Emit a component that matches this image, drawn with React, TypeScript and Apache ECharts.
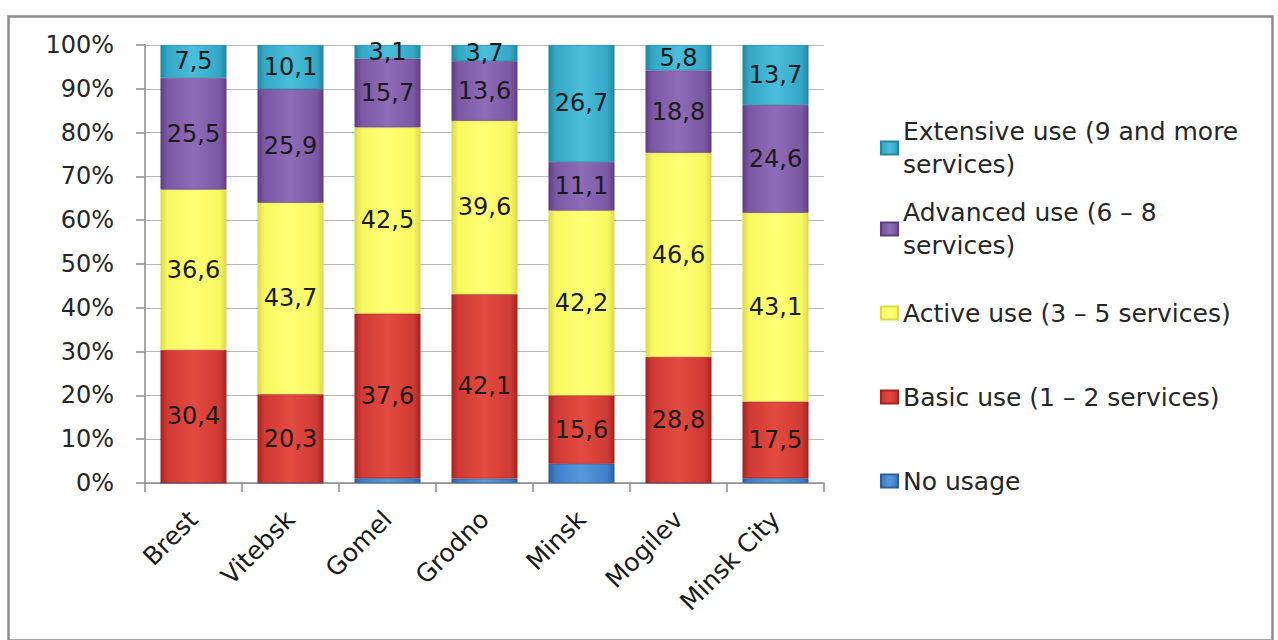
import React, { useEffect, useRef } from "react";
import * as echarts from "echarts";

// Share of internet users by intensity of e-service use, per region (%)
const regions = ["Brest", "Vitebsk", "Gomel", "Grodno", "Minsk", "Mogilev", "Minsk City"];
const noUsage = [0, 0, 1.1, 1.0, 4.4, 0, 1.1];
const basicUse = [30.4, 20.3, 37.6, 42.1, 15.6, 28.8, 17.5];
const activeUse = [36.6, 43.7, 42.5, 39.6, 42.2, 46.6, 43.1];
const advancedUse = [25.5, 25.9, 15.7, 13.6, 11.1, 18.8, 24.6];
const extensiveUse = [7.5, 10.1, 3.1, 3.7, 26.7, 5.8, 13.7];

const seriesNames = [
  "No usage",
  "Basic use (1 – 2 services)",
  "Active use (3 – 5 services)",
  "Advanced use (6 – 8 services)",
  "Extensive use (9 and more services)",
];
const legendLabels = [
  "No usage",
  "Basic use (1 – 2 services)",
  "Active use (3 – 5 services)",
  "Advanced use (6 –\u00a08\nservices)",
  "Extensive use (9 and more\nservices)",
];
const legendRows = [481, 397, 313, 229, 148];
const twoLine = [false, false, false, true, true];

const FONT = "DejaVu Sans";
const LINE = 33;

const shade = (edge: string, mid: string, light: string) =>
  new echarts.graphic.LinearGradient(0, 0, 1, 0, [
    { offset: 0, color: edge },
    { offset: 0.1, color: mid },
    { offset: 0.5, color: light },
    { offset: 0.9, color: mid },
    { offset: 1, color: edge },
  ]);

const palette = [
  ["#2C5E9E", "#3F7DC8", "#5A98DD"],
  ["#A8221F", "#D03A34", "#E34A40"],
  ["#DADA4C", "#F8F860", "#FFFF74"],
  ["#5E3F85", "#7A58A3", "#8E6CB7"],
  ["#22879F", "#35A7C6", "#4ABEDB"],
];

const values = [noUsage, basicUse, activeUse, advancedUse, extensiveUse];

const fmt = (v: number) => v.toFixed(1).replace(".", ",");

export default function App() {
  const ref = useRef<HTMLDivElement>(null);

  useEffect(() => {
    if (!ref.current) return;
    const chart = echarts.init(ref.current, null, { renderer: "svg" });

    const series = values.map((data, i) => ({
      name: seriesNames[i],
      type: "bar",
      stack: "total",
      barWidth: "68%",
      data,
      itemStyle: {
        color: shade(palette[i][0], palette[i][1], palette[i][2]),
        borderColor: palette[i][0],
        borderWidth: 0.6,
      },
      label: {
        show: i > 0,
        position: "inside",
        fontFamily: FONT,
        fontSize: 24,
        color: "#1b1b1b",
        formatter: (p: any) => (p.value > 0 ? fmt(p.value) : ""),
      },
    }));

    const legends = seriesNames.map((name, i) => ({
      show: true,
      data: [name],
      left: 880,
      top: twoLine[i] ? legendRows[i] - LINE * 1.5 : legendRows[i] - LINE / 2,
      padding: 0,
      itemWidth: 17,
      itemHeight: 13,
      icon: "rect",
      selectedMode: false,
      formatter: () => legendLabels[i],
      textStyle: {
        fontFamily: FONT,
        fontSize: 25,
        color: "#262626",
        lineHeight: LINE,
        padding: twoLine[i] ? [LINE, 0, 0, 0] : 0,
      },
    }));

    chart.setOption({
      animation: false,
      backgroundColor: "#ffffff",
      grid: { left: 145, right: 454, top: 45, bottom: 157 },
      legend: legends,
      xAxis: {
        type: "category",
        data: regions,
        axisLine: { lineStyle: { color: "#8a8a8a", width: 1.5 } },
        axisTick: { show: true, length: 9, lineStyle: { color: "#8a8a8a", width: 1.5 } },
        axisLabel: {
          rotate: 45,
          margin: 32,
          fontFamily: FONT,
          fontSize: 25,
          color: "#1a1a1a",
        },
      },
      yAxis: {
        type: "value",
        min: 0,
        max: 100,
        interval: 10,
        axisLine: { show: true, lineStyle: { color: "#8a8a8a", width: 1.5 } },
        axisTick: { show: true, length: 9, lineStyle: { color: "#8a8a8a", width: 1.5 } },
        splitLine: { lineStyle: { color: "#b8b8b8", width: 1 } },
        axisLabel: {
          formatter: "{value}%",
          margin: 31,
          fontFamily: FONT,
          fontSize: 24,
          color: "#262626",
        },
      },
      graphic: [
        {
          type: "rect",
          left: 6,
          top: 14,
          shape: { width: 1264, height: 624 },
          style: { fill: "none", stroke: "#8c8c8c", lineWidth: 2.5 },
          silent: true,
          z: -1,
        },
      ],
      series,
    });

    return () => chart.dispose();
  }, []);

  return (
    <div
      ref={ref}
      style={{ position: "fixed", left: 0, top: 0, width: 1278, height: 640 }}
    />
  );
}
